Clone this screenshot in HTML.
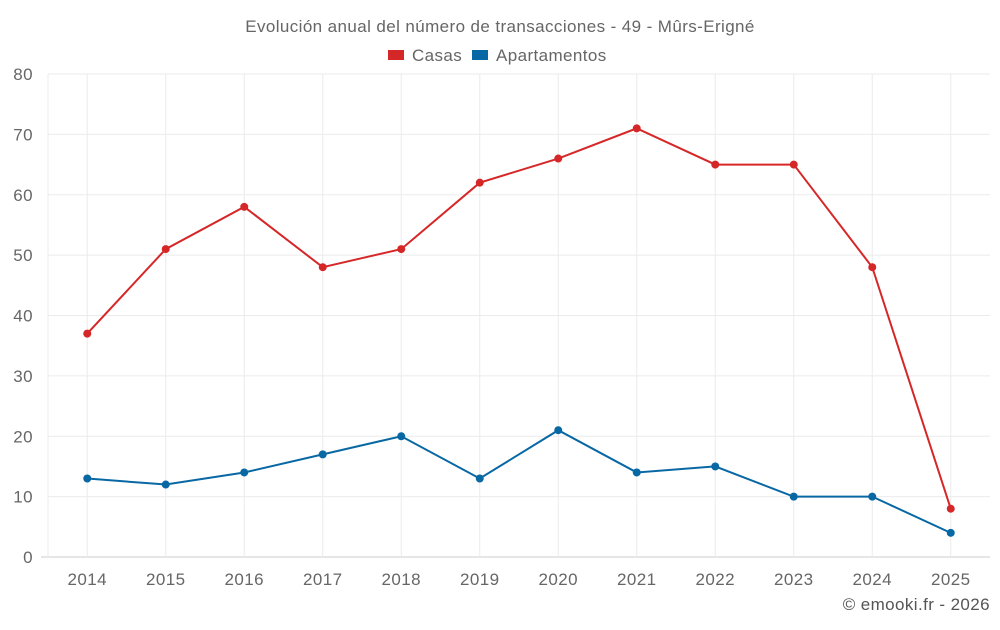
<!DOCTYPE html>
<html><head><meta charset="utf-8"><style>
body{margin:0;background:#fff;font-family:"Liberation Sans",sans-serif}
svg text{font-family:"Liberation Sans",sans-serif;letter-spacing:0.4px}
</style></head><body>
<svg id="c" width="1000" height="625">
<text x="500" y="32" text-anchor="middle" font-size="17" fill="#666">Evolución anual del número de transacciones - 49 - Mûrs-Erigné</text>
<g><rect x="388" y="50" width="16" height="10" fill="#d62728"/><text x="412" y="61" font-size="17" fill="#666">Casas</text></g>
<g><rect x="472" y="50" width="16" height="10" fill="#0868a4"/><text x="496" y="61" font-size="17" fill="#666">Apartamentos</text></g>
<text x="990" y="610" text-anchor="end" font-size="17" fill="#555">© emooki.fr - 2026</text>
<g id="grid"></g><g id="marks"></g>
</svg>
<script>
const categories=["2014","2015","2016","2017","2018","2019","2020","2021","2022","2023","2024","2025"];
const casas=[37,51,58,48,51,62,66,71,65,65,48,8];
const apartamentos=[13,12,14,17,20,13,21,14,15,10,10,4];
const yTicks=[0,10,20,30,40,50,60,70,80];
const L=48,R=990,T=74,B=557,NS="http://www.w3.org/2000/svg";
const bw=(R-L)/categories.length;
const x=i=>L+bw*(i+0.5), y=v=>B-(v/80)*(B-T);
const g=document.getElementById('grid'),m=document.getElementById('marks');
function el(t,a,p){const e=document.createElementNS(NS,t);for(const k in a)e.setAttribute(k,a[k]);p.appendChild(e);return e;}
yTicks.forEach(v=>{
 const ln=el('line',{x1:v===0?41:L,x2:R,y1:y(v),y2:y(v),stroke:v===0?'#ccc':'#ebebeb'},g);
 
 
 const t=el('text',{x:33,y:y(v)+6,'text-anchor':'end','font-size':17,fill:'#666'},g);t.textContent=v;
 
 
});
el('line',{x1:L,x2:L,y1:T,y2:B,stroke:'#ebebeb'},g);
categories.forEach((c,i)=>{
 const ln=el('line',{x1:x(i),x2:x(i),y1:T,y2:B,stroke:'#ebebeb'},g);
 
 
 const t=el('text',{x:x(i),y:585,'text-anchor':'middle','font-size':17,fill:'#666'},g);t.textContent=c;
 
 
});
function series(d,col,name){
 const p=el('polyline',{points:d.map((v,i)=>x(i)+','+y(v)).join(' '),fill:'none',stroke:col,'stroke-width':2},m);
 
 
 d.forEach((v,i)=>{const c=el('circle',{cx:x(i),cy:y(v),r:4,fill:col},m);
 
 });
}
series(casas,'#d62728','casas');
series(apartamentos,'#0868a4','apartamentos');
</script>
</body></html>
